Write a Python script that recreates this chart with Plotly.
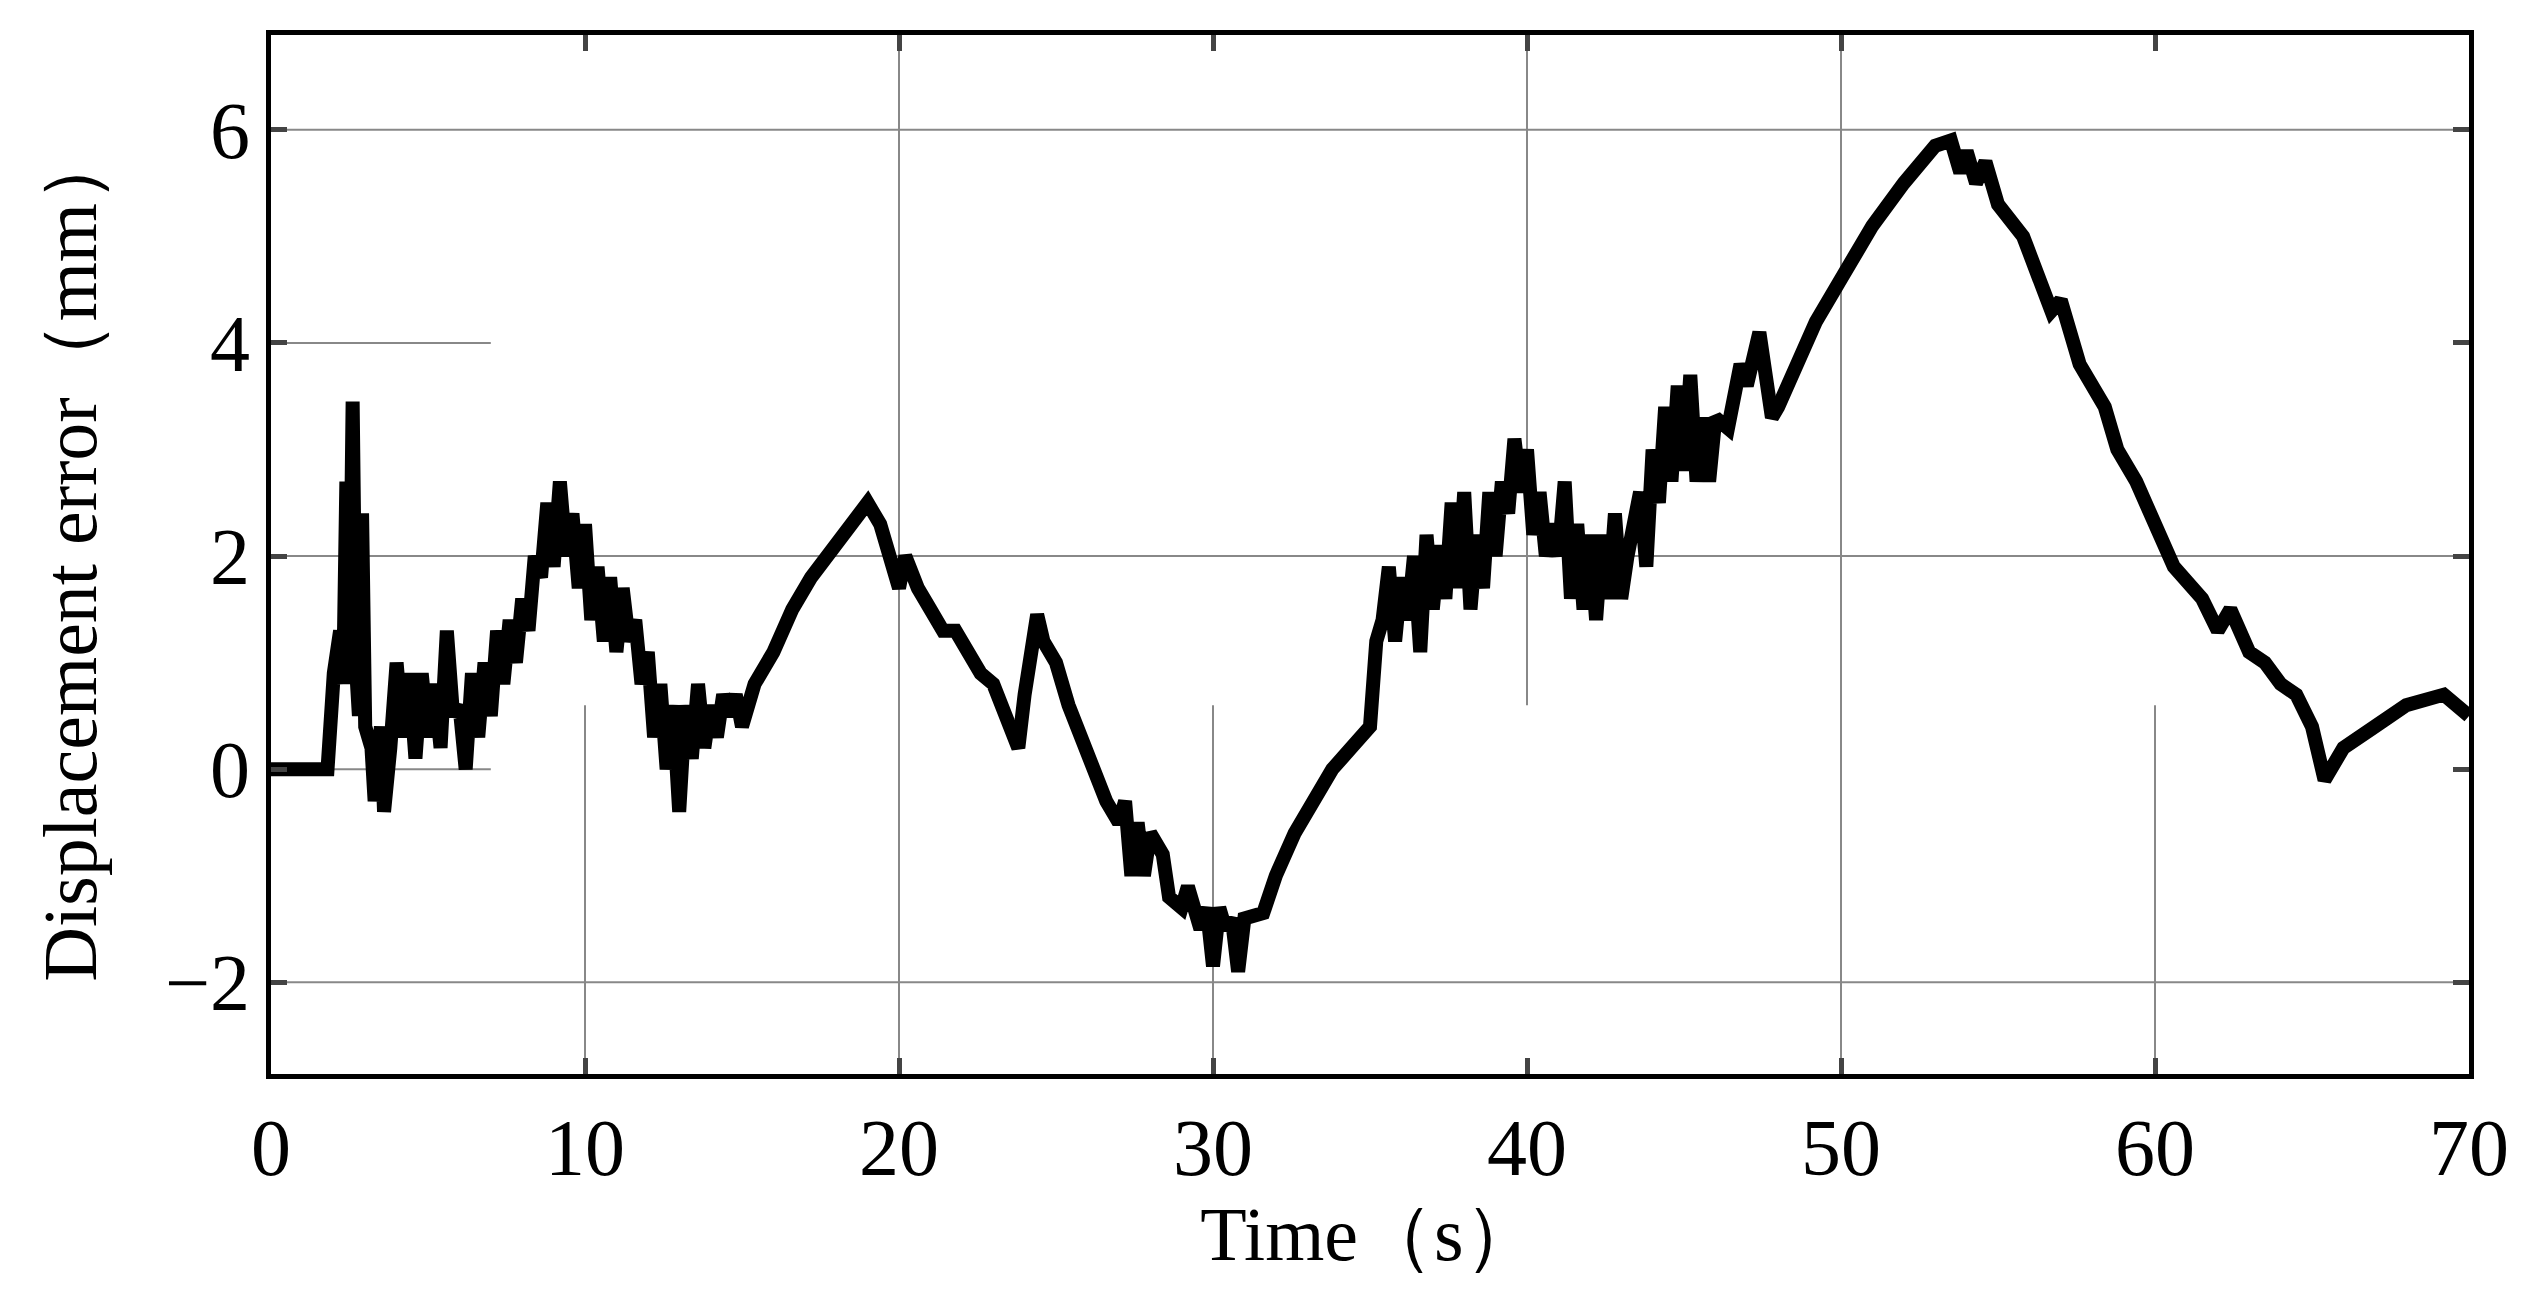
import plotly.graph_objects as go

# time (s) and displacement error (mm)
t = [0, 1.8, 2.0, 2.2, 2.3, 2.4, 2.5, 2.6, 2.7, 2.8, 2.9, 3.0, 3.2, 3.3, 3.5, 3.6, 3.8, 4.0, 4.2, 4.4,
     4.6, 4.8, 5.0, 5.2, 5.4, 5.6, 5.8, 6.0, 6.2, 6.4, 6.6, 6.8, 7.0, 7.2, 7.4, 7.6, 7.8, 8.0, 8.2, 8.4,
     8.6, 8.8, 9.0, 9.2, 9.4, 9.6, 9.8, 10.0, 10.2, 10.4, 10.6, 10.8, 11.0, 11.2, 11.4, 11.6, 11.8, 12.0,
     12.2, 12.4, 12.6, 12.8, 13.0, 13.2, 13.4, 13.6, 13.8, 14.0, 14.2, 14.4, 14.6, 14.8, 15.0, 15.4, 16.0,
     16.6, 17.2, 18.0, 18.6, 19.0, 19.4, 19.7, 20.0, 20.2, 20.6, 21.0, 21.4, 21.8, 22.2, 22.6, 23.0, 23.4,
     23.8, 24.0, 24.2, 24.4, 24.6, 25.0, 25.4, 25.8, 26.2, 26.6, 27.0, 27.2, 27.4, 27.6, 27.8, 28.0, 28.4,
     28.6, 29.0, 29.2, 29.6, 29.8, 30.0, 30.2, 30.4, 30.6, 30.8, 31.0, 31.6, 32.0, 32.6, 33.2, 33.8, 34.4,
     35.0, 35.2, 35.4, 35.6, 35.8, 36.0, 36.2, 36.4, 36.6, 36.8, 37.0, 37.2, 37.4, 37.6, 37.8, 38.0, 38.2,
     38.4, 38.6, 38.8, 39.0, 39.2, 39.4, 39.6, 39.8, 40.0, 40.2, 40.4, 40.6, 40.8, 41.0, 41.2, 41.4, 41.6,
     41.8, 42.0, 42.2, 42.4, 42.6, 42.8, 43.0, 43.2, 43.6, 43.8, 44.0, 44.2, 44.4, 44.6, 44.8, 45.0, 45.2,
     45.4, 45.6, 45.8, 46.0, 46.4, 46.8, 47.0, 47.4, 47.8, 48.0, 48.6, 49.2, 50.0, 51.0, 52.0, 53.0, 53.5,
     53.8, 54.0, 54.3, 54.6, 55.0, 55.8, 56.4, 56.7, 57.0, 57.6, 58.4, 58.8, 59.4, 60.1, 60.6, 61.5, 62.0,
     62.4, 63.0, 63.5, 64.0, 64.5, 65.0, 65.4, 66.0, 67.0, 68.0, 69.2, 70.0]
err = [0, 0, 0.9, 1.3, 0.8, 2.7, 1.0, 3.45, 1.0, 0.5, 2.4, 0.4, 0.2, -0.3, 0.4, -0.4, 0.2, 1.0, 0.3, 0.9,
       0.1, 0.9, 0.3, 0.8, 0.2, 1.3, 0.5, 0.6, 0.0, 0.9, 0.3, 1.0, 0.5, 1.3, 0.8, 1.4, 1.0, 1.6, 1.3, 2.0,
       1.8, 2.5, 1.9, 2.7, 2.0, 2.4, 1.7, 2.3, 1.4, 1.9, 1.2, 1.8, 1.1, 1.7, 1.2, 1.4, 0.8, 1.1,
       0.3, 0.8, 0.0, 0.6, -0.4, 0.6, 0.1, 0.8, 0.2, 0.6, 0.3, 0.7, 0.5, 0.7, 0.4, 0.8, 1.1,
       1.5, 1.8, 2.1, 2.35, 2.5, 2.3, 2.0, 1.7, 2.0, 1.7, 1.5, 1.3, 1.3, 1.1, 0.9, 0.8, 0.5,
       0.2, 0.7, 1.0, 1.45, 1.2, 1.0, 0.6, 0.3, 0.0, -0.3, -0.5, -0.3, -1.0, -0.5, -1.0, -0.6, -0.8,
       -1.2, -1.3, -1.1, -1.5, -1.3, -1.85, -1.3, -1.5, -1.4, -1.9, -1.4, -1.35, -1.0, -0.6, -0.3, 0.0, 0.2,
       0.4, 1.2, 1.4, 1.9, 1.2, 1.8, 1.4, 2.0, 1.1, 2.2, 1.5, 2.1, 1.6, 2.5, 1.7, 2.6, 1.5,
       2.2, 1.7, 2.6, 2.0, 2.7, 2.4, 3.1, 2.6, 3.0, 2.2, 2.6, 2.0, 2.3, 2.0, 2.7, 1.6, 2.3,
       1.5, 2.2, 1.4, 2.2, 1.6, 2.4, 1.6, 2.0, 2.6, 1.9, 3.0, 2.5, 3.4, 2.7, 3.6, 2.8, 3.7,
       2.7, 3.3, 2.7, 3.3, 3.2, 3.8, 3.6, 4.1, 3.3, 3.4, 3.8, 4.2, 4.6, 5.1, 5.5, 5.85, 5.9,
       5.6, 5.8, 5.5, 5.7, 5.3, 5.0, 4.5, 4.3, 4.4, 3.8, 3.4, 3.0, 2.7, 2.2, 1.9, 1.6, 1.3,
       1.5, 1.1, 1.0, 0.8, 0.7, 0.4, -0.1, 0.2, 0.4, 0.6, 0.7, 0.5]

fig = go.Figure()
fig.add_trace(go.Scatter(x=t, y=err, mode="lines",
                         line=dict(color="black", width=14, shape="linear")))

grey = dict(color="#888888", width=2)
# partial grid segments as in the original figure
for y0, x0, x1 in [(6, 0, 70), (2, 0, 70), (-2, 0, 70), (4, 0, 7), (0, 0, 7)]:
    fig.add_shape(type="line", x0=x0, x1=x1, y0=y0, y1=y0, line=grey, layer="below")
for x0, y0, y1 in [(10, -2.9, 0.6), (30, -2.9, 0.6), (60, -2.9, 0.6), (40, 0.6, 6.9),
                   (20, -2.9, 6.9), (50, -2.9, 6.9)]:
    fig.add_shape(type="line", x0=x0, x1=x0, y0=y0, y1=y1, line=grey, layer="below")

font = dict(family="Liberation Serif", size=80, color="black")
tfont = dict(family="Liberation Serif", size=76, color="black")
fig.update_xaxes(range=[0, 70], dtick=10, showgrid=False, zeroline=False, ticks="inside",
                 ticklen=16, tickwidth=5, mirror="ticks", showline=True, linewidth=5,
                 linecolor="black", tickfont=font, title=dict(text="Time（s）", font=tfont, standoff=5))
fig.update_yaxes(range=[-2.86, 6.89], tickvals=[-2, 0, 2, 4, 6], ticktext=["−2", "0", "2", "4", "6"],
                 showgrid=False, zeroline=False, ticks="inside", ticklen=16, tickwidth=5,
                 mirror="ticks", showline=True, linewidth=5, linecolor="black", tickfont=font,
                 title=dict(text="Displacement error（mm）", font=tfont, standoff=45))
fig.update_layout(width=2529, height=1310, margin=dict(l=263, r=68, t=27, b=244),
                  plot_bgcolor="white", paper_bgcolor="white", showlegend=False)
fig.write_html("out.html")
